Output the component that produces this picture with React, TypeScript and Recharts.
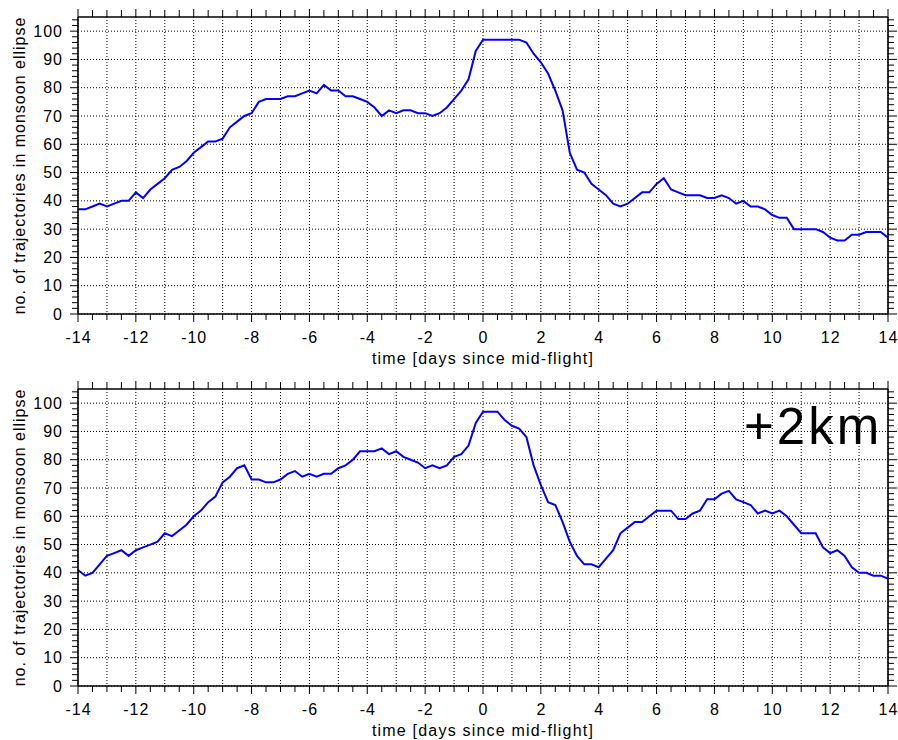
import { LineChart, Line, XAxis, YAxis, CartesianGrid } from 'recharts';

// trajectories counted in the monsoon ellipse, sampled every 6 h from -14 to +14 days
const topCounts = [
  37, 37, 38, 39, 38, 39, 40, 40, 43, 41, 44, 46, 48, 51, 52, 54, 57, 59, 61, 61,
  62, 66, 68, 70, 71, 75, 76, 76, 76, 77, 77, 78, 79, 78, 81, 79, 79, 77, 77, 76,
  75, 73, 70, 72, 71, 72, 72, 71, 71, 70, 71, 73, 76, 79, 83, 93, 97, 97, 97, 97,
  97, 97, 96, 92, 89, 85, 79, 72, 57, 51, 50, 46, 44, 42, 39, 38, 39, 41, 43, 43,
  46, 48, 44, 43, 42, 42, 42, 41, 41, 42, 41, 39, 40, 38, 38, 37, 35, 34, 34, 30,
  30, 30, 30, 29, 27, 26, 26, 28, 28, 29, 29, 29, 27,
];

// same, +2km
const bottomCounts = [
  41, 39, 40, 43, 46, 47, 48, 46, 48, 49, 50, 51, 54, 53, 55, 57, 60, 62, 65, 67,
  72, 74, 77, 78, 73, 73, 72, 72, 73, 75, 76, 74, 75, 74, 75, 75, 77, 78, 80, 83,
  83, 83, 84, 82, 83, 81, 80, 79, 77, 78, 77, 78, 81, 82, 85, 93, 97, 97, 97, 94,
  92, 91, 88, 78, 71, 65, 64, 58, 51, 46, 43, 43, 42, 45, 48, 54, 56, 58, 58, 60,
  62, 62, 62, 59, 59, 61, 62, 66, 66, 68, 69, 66, 65, 64, 61, 62, 61, 62, 60, 57,
  54, 54, 54, 49, 47, 48, 46, 42, 40, 40, 39, 39, 38,
];

const days = topCounts.map((_, i) => -14 + i * 0.25);

const dayLabels = [-14, -12, -10, -8, -6, -4, -2, 0, 2, 4, 6, 8, 10, 12, 14];
const gridDays = Array.from({ length: 29 }, (_, i) => -14 + i);
const halfDays = Array.from({ length: 57 }, (_, i) => -14 + i * 0.5);
const countLabels = [0, 10, 20, 30, 40, 50, 60, 70, 80, 90, 100];
const countMinor = Array.from({ length: 53 }, (_, i) => i * 2);

const FONT = '"Liberation Sans", Arial, Helvetica, sans-serif';
const axisLine = { stroke: '#000', strokeWidth: 1.6 };

const BottomTick = ({ x, y, payload }: any) => {
  const major = dayLabels.includes(payload.value);
  return (
    <g>
      <line x1={x} x2={x} y1={y} y2={y + (major ? 8 : 6)} stroke="#000" strokeWidth={1} />
      {major && (
        <text x={x + 0.5} y={y + 29} textAnchor="middle" fontSize={16} fontFamily={FONT} fill="#000" letterSpacing={1}>
          {payload.value}
        </text>
      )}
    </g>
  );
};

const TopTick = ({ x, y, payload }: any) => {
  const major = dayLabels.includes(payload.value);
  return <line x1={x} x2={x} y1={y} y2={y - (major ? 8 : 7)} stroke="#000" strokeWidth={1} />;
};

const LeftTick = ({ x, y, payload }: any) => {
  const major = payload.value % 10 === 0;
  return (
    <g>
      <line x1={x} x2={x - (major ? 8 : 6)} y1={y} y2={y} stroke="#000" strokeWidth={1} />
      {major && (
        <text x={x - 15} y={y + 5.5} textAnchor="end" fontSize={16} fontFamily={FONT} fill="#000" letterSpacing={1}>
          {payload.value}
        </text>
      )}
    </g>
  );
};

const RightTick = ({ x, y, payload }: any) => {
  const major = payload.value % 10 === 0;
  return <line x1={x} x2={x + (major ? 9 : 6)} y1={y} y2={y} stroke="#000" strokeWidth={1} />;
};

const XTitle = ({ viewBox }: any) => (
  <text x={viewBox.x + viewBox.width / 2} y={viewBox.y + 50} textAnchor="middle" fontSize={16} fontFamily={FONT} fill="#000" letterSpacing={1.2}>
    time [days since mid-flight]
  </text>
);

const YTitle = ({ viewBox }: any) => {
  const cx = 19;
  const cy = viewBox.y + viewBox.height / 2;
  return (
    <text x={cx} y={cy} transform={`rotate(-90 ${cx} ${cy})`} textAnchor="middle" dominantBaseline="central" fontSize={16} fontFamily={FONT} fill="#000" letterSpacing={1}>
      no. of trajectories in monsoon ellipse
    </text>
  );
};

function Panel({ counts, height, axisHeight }: { counts: number[]; height: number; axisHeight: number }) {
  const data = counts.map((n, i) => ({ t: days[i], n }));
  return (
    <LineChart width={898} height={height} data={data} margin={{ top: 0, right: 0, bottom: 0, left: 0 }}>
      <CartesianGrid
        xAxisId="b"
        yAxisId="l"
        verticalValues={gridDays}
        horizontalValues={countLabels}
        stroke="#000"
        strokeDasharray="1 2"
        strokeWidth={1}
      />
      <XAxis
        xAxisId="b"
        dataKey="t"
        type="number"
        domain={[-14, 14]}
        ticks={halfDays}
        interval={0}
        allowDataOverflow
        tickSize={0}
        tickMargin={0}
        tickLine={false}
        axisLine={axisLine}
        height={axisHeight}
        tick={BottomTick}
        label={XTitle}
      />
      <XAxis
        xAxisId="t"
        orientation="top"
        dataKey="t"
        type="number"
        domain={[-14, 14]}
        ticks={halfDays}
        interval={0}
        allowDataOverflow
        tickSize={0}
        tickMargin={0}
        tickLine={false}
        axisLine={axisLine}
        height={17}
        tick={TopTick}
      />
      <YAxis
        yAxisId="l"
        type="number"
        domain={[0, 105]}
        ticks={countMinor}
        interval={0}
        allowDataOverflow
        tickSize={0}
        tickMargin={0}
        tickLine={false}
        axisLine={axisLine}
        width={78}
        tick={LeftTick}
        label={YTitle}
      />
      <YAxis
        yAxisId="r"
        orientation="right"
        type="number"
        domain={[0, 105]}
        ticks={countMinor}
        interval={0}
        allowDataOverflow
        tickSize={0}
        tickMargin={0}
        tickLine={false}
        axisLine={axisLine}
        width={10}
        tick={RightTick}
      />
      <Line
        xAxisId="b"
        yAxisId="l"
        type="linear"
        dataKey="n"
        stroke="#0000ff"
        strokeWidth={2}
        dot={false}
        activeDot={false}
        isAnimationActive={false}
      />
    </LineChart>
  );
}

export default function App() {
  return (
    <div style={{ position: 'absolute', left: 0, top: 0, width: 898, height: 740, background: '#fff', overflow: 'hidden' }}>
      <div style={{ position: 'absolute', left: 0, top: 0 }}>
        <Panel counts={topCounts} height={370} axisHeight={56} />
      </div>
      <div style={{ position: 'absolute', left: 0, top: 372 }}>
        <Panel counts={bottomCounts} height={368} axisHeight={54} />
      </div>
      <div
        style={{
          position: 'absolute',
          left: 744,
          top: 401,
          fontFamily: FONT,
          fontSize: 51,
          lineHeight: '51px',
          letterSpacing: 3,
          color: '#000',
          whiteSpace: 'nowrap',
        }}
      >
        +2km
      </div>
    </div>
  );
}
